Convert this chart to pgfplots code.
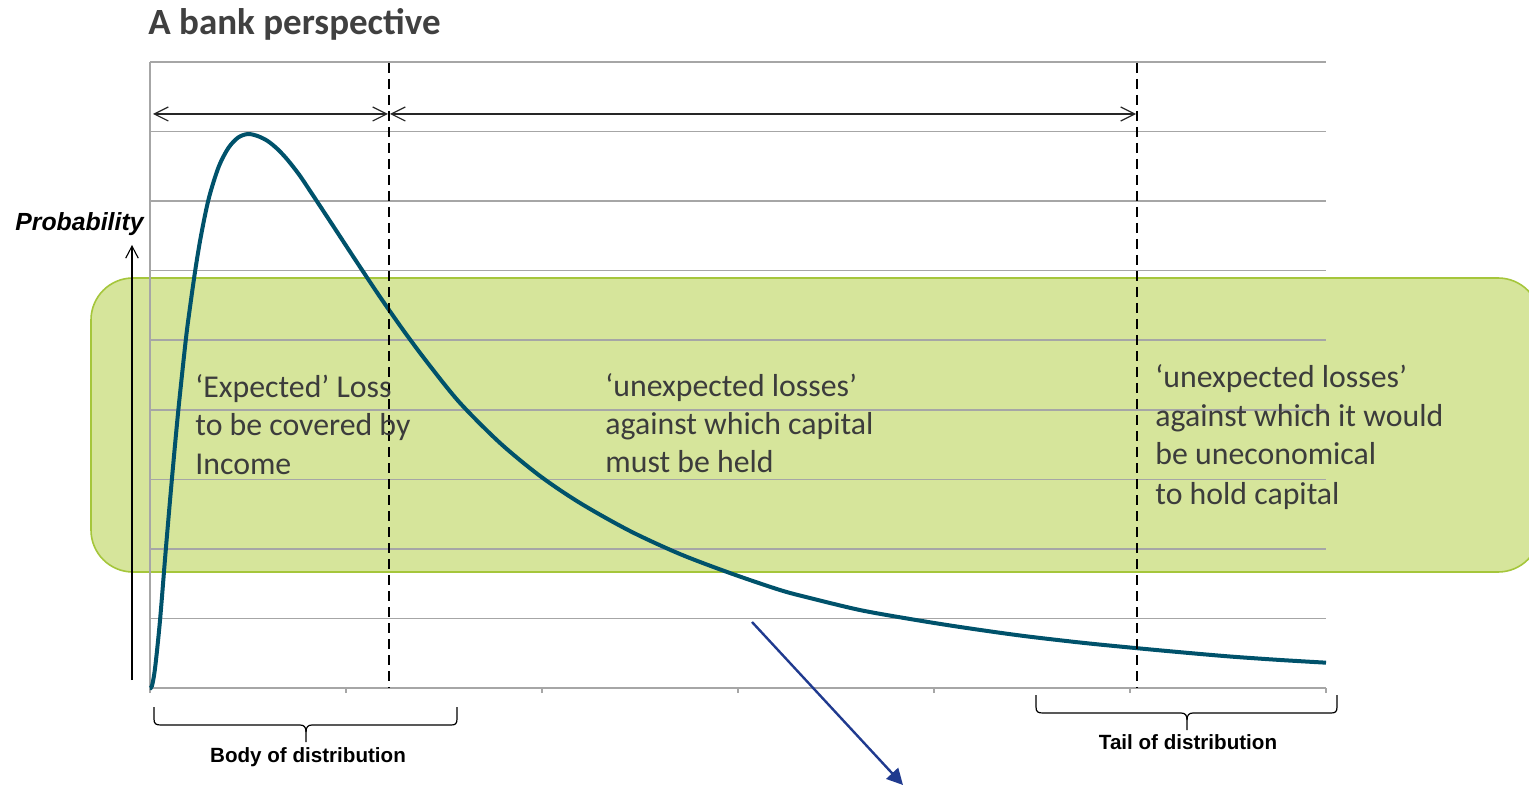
\documentclass[border=0pt]{standalone}
\usepackage{pgfplots}
\pgfplotsset{compat=1.18}
\usepackage{fontspec}
\setmainfont{Carlito}
\newfontfamily\arial{Liberation Sans}
\usetikzlibrary{arrows.meta}
\definecolor{gridgray}{HTML}{A6A6A6}
\definecolor{boxgreen}{HTML}{D6E59B}
\definecolor{boxborder}{HTML}{A5C63B}
\definecolor{curveblue}{HTML}{00526B}
\definecolor{navy}{HTML}{203A8F}
\definecolor{txtgray}{HTML}{3C3C3C}
\definecolor{titlegray}{HTML}{404040}
\tikzset{px/.style={x=0.5pt,y=-0.5pt}}

\pgfplotstableread{
x y
0 0
0.010 0.03
0.026 0.29
0.051 0.97
0.080 1.97
0.111 2.98
0.144 3.98
0.182 4.99
0.200 5.39
0.230 5.99
0.260 6.50
0.300 7.04
0.350 7.49
0.400 7.765
0.450 7.915
0.500 7.965
0.550 7.935
0.600 7.865
0.650 7.75
0.700 7.60
0.760 7.384
0.816 7.15
0.934 6.645
1.056 6.12
1.173 5.625
1.301 5.11
1.429 4.629
1.582 4.097
1.786 3.522
1.990 3.048
2.194 2.660
2.449 2.257
2.704 1.926
2.959 1.653
3.214 1.409
3.367 1.294
3.622 1.121
3.878 0.992
4.133 0.877
4.439 0.755
4.745 0.654
5.000 0.582
5.255 0.515
5.510 0.453
5.765 0.403
6.000 0.364
}\losscurve

\begin{document}
\begin{tikzpicture}
\useasboundingbox (0pt,0pt) rectangle (764.5pt,-392.5pt);
% green box
\begin{scope}[px]
\clip (0,0) rectangle (1529,785);
\draw[draw=boxborder, fill=boxgreen, line width=0.8pt, rounded corners=21pt] (91,278) rectangle (1540,572);
\end{scope}

\begin{axis}[
  at={(75pt,-344pt)}, anchor=south west,
  width=588pt, height=313pt, scale only axis,
  xmin=0, xmax=6, ymin=0, ymax=9,
  axis x line*=bottom, axis y line*=left,
  xtick={0,1,2,3,4,5,6}, ytick={0,1,2,3,4,5,6,7,8,9},
  xticklabels={}, yticklabels={},
  ymajorgrids,
  major grid style={draw=gridgray, line width=0.75pt},
  axis line style={draw=gridgray, line width=0.75pt},
  xtick style={draw=gridgray, line width=0.75pt},
  ytick style={draw=none},
  tick align=outside, major tick length=2.5pt,
  clip=false,
]
\addplot[curveblue, line width=2pt, smooth] table[x=x,y=y] {\losscurve};
\end{axis}

\begin{scope}[px]
% dashed vertical lines
\draw[black, line width=0.65pt, dash pattern=on 5pt off 3pt] (389,63) -- (389,688);
\draw[black, line width=0.65pt, dash pattern=on 5pt off 3pt] (1137,63) -- (1137,688);

% double arrows
\draw[black!85, line width=0.6pt, {Straight Barb[length=7pt,width=7pt]}-{Straight Barb[length=7pt,width=7pt]}] (153,114) -- (388,114);
\draw[black!85, line width=0.6pt, {Straight Barb[length=7pt,width=7pt]}-{Straight Barb[length=7pt,width=7pt]}] (390,114) -- (1136,114);

% probability arrow
\draw[black, line width=0.55pt, -{Straight Barb[length=6pt,width=6.3pt]}] (132,680) -- (132,245);
\node[anchor=base west, inner sep=0, font=\arial\bfseries\itshape\fontsize{12.4pt}{15pt}\selectfont] at (15,231) {Probability};

% title
\node[anchor=base west, inner sep=0, text=titlegray, font=\bfseries\fontsize{18.5pt}{22pt}\selectfont] at (148,35) {A bank perspective};

% texts in box
\begin{scope}[every node/.style={anchor=base west, inner sep=0, text=txtgray, font=\fontsize{15.9pt}{19pt}\selectfont}]
\node at (195,398) {‘Expected’ Loss};
\node at (195,436) {to be covered by};
\node at (195,474) {Income};
\node at (605,397) {‘unexpected losses’};
\node at (605,435) {against which capital};
\node at (605,473) {must be held};
\node at (1155,388) {‘unexpected losses’};
\node at (1155,427) {against which it would};
\node at (1155,465) {be uneconomical};
\node at (1155,504) {to hold capital};
\end{scope}

% braces
\draw[black, line width=0.6pt]
  (154,707) -- (154,719) .. controls (154,724) and (156,725) .. (161,725) -- (300,725)
  .. controls (304,725) and (306,727) .. (306,732) -- (306,742);
\draw[black, line width=0.6pt]
  (306,732) .. controls (306,727) and (308,725) .. (312,725) -- (451,725)
  .. controls (455,725) and (457,724) .. (457,719) -- (457,707);
\draw[black, line width=0.6pt]
  (1036,695) -- (1036,707) .. controls (1036,712) and (1038,713) .. (1043,713) -- (1181,713)
  .. controls (1185,713) and (1187,715) .. (1187,720) -- (1187,730);
\draw[black, line width=0.6pt]
  (1187,720) .. controls (1187,715) and (1189,713) .. (1193,713) -- (1331,713)
  .. controls (1335,713) and (1337,712) .. (1337,707) -- (1337,695);
\node[anchor=base, inner sep=0, font=\arial\bfseries\fontsize{10.3pt}{12pt}\selectfont] at (308,762) {Body of distribution};
\node[anchor=base, inner sep=0, font=\arial\bfseries\fontsize{10.3pt}{12pt}\selectfont] at (1188,749) {Tail of distribution};

% blue arrow
\draw[navy, line width=1.2pt, -{Triangle[length=8pt,width=8pt]}] (752,622) -- (903,785);
\end{scope}
\end{tikzpicture}
\end{document}
